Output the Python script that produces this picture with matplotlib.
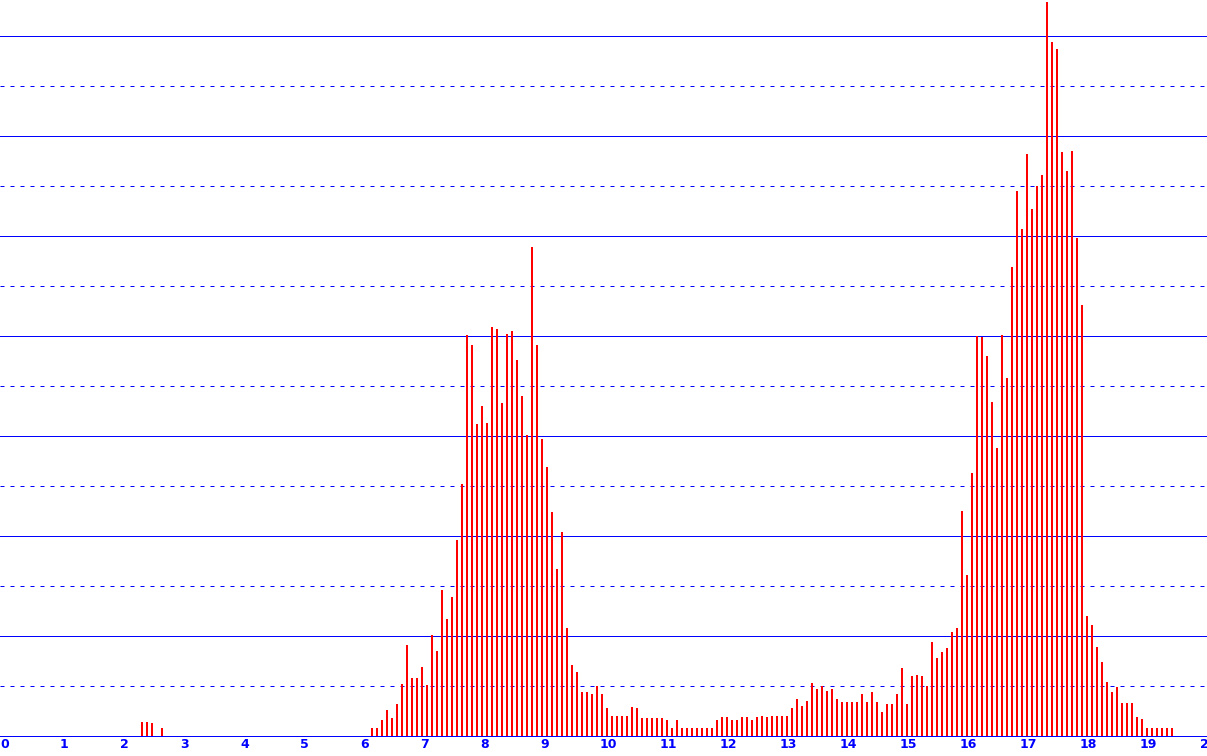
import numpy as np
import matplotlib
matplotlib.use('Agg')
import matplotlib.pyplot as plt

# 5-minute bins, first bin starts at 02:20, last at 19:30
start_hour = 2 + 20 / 60
bin_hours = 5 / 60

values = (
    [14, 14, 13, 0, 8]
    + [0] * 41
    + [8, 8, 16, 26, 18, 32, 52, 91, 58, 58, 69, 51, 101, 85, 146, 117, 139, 196, 252, 401,
       391, 312, 330, 313, 409, 407, 333, 402, 405, 376]
    + [340, 301, 489, 391, 297, 269, 224, 167, 204, 108, 71, 64, 44, 44, 42, 50, 42]
    + [28, 20, 20, 20, 20, 29, 28, 18, 18, 18, 18, 18, 16, 8, 16, 8, 8, 8, 8, 8, 8, 8,
       16, 19, 19, 16, 16, 19, 19, 16, 19, 20, 19, 20, 20, 20, 20]
    + [28, 37, 30, 35, 53, 47, 50, 45, 47, 37, 34, 34, 34, 34, 42, 34, 44, 34, 24, 32, 32,
       42, 68, 32, 60, 61, 60, 50, 94, 78, 84, 88]
    + [104, 108, 225, 161, 263, 400, 399, 380, 334, 288, 401, 358]
    + [469, 545, 507, 582, 527, 550, 561, 734, 694, 687, 584, 565, 585, 498, 431, 120]
    + [111, 89, 74, 54, 44, 49, 33, 33, 33, 19, 17, 8, 8, 8, 8, 8, 8]
)

hour_ticks = list(range(0, 21))
tick_labels = [str(h) for h in hour_ticks]
solid_levels = [100, 200, 300, 400, 500, 600, 700]
dashed_levels = [50, 150, 250, 350, 450, 550, 650]

W, H = 1207, 756
fig = plt.figure(figsize=(W / 100, H / 100), dpi=100)
ax = fig.add_axes([0, 20 / H, 1, 736 / H])
ax.set_xlim(0, W / 60)
ax.set_ylim(0, 736)

px = 1 / 60  # one pixel in hours
times = start_hour + bin_hours * np.arange(len(values))
ax.bar(times + px, values, width=2 * px, align='edge', color='#ff0000',
       linewidth=0, antialiased=False, zorder=3)

for lv in solid_levels:
    ax.axhline(lv, color='#0000ff', lw=0.72, zorder=1, snap=True)
for lv in dashed_levels:
    ax.axhline(lv, color='#0000ff', lw=0.72, ls=(0, (4, 6)), zorder=1, snap=True)
ax.axhline(0, color='#0000ff', lw=0.72, zorder=4, snap=True, clip_on=False)

for s in ax.spines.values():
    s.set_visible(False)
ax.set_yticks([])
ax.set_xticks(hour_ticks)
ax.set_xticklabels(tick_labels, ha='left', color='#0000ff', fontweight='bold',
                   fontsize=9, family='DejaVu Sans')
ax.tick_params(axis='x', length=0, pad=1.5)

fig.savefig('out.png', dpi=100)
